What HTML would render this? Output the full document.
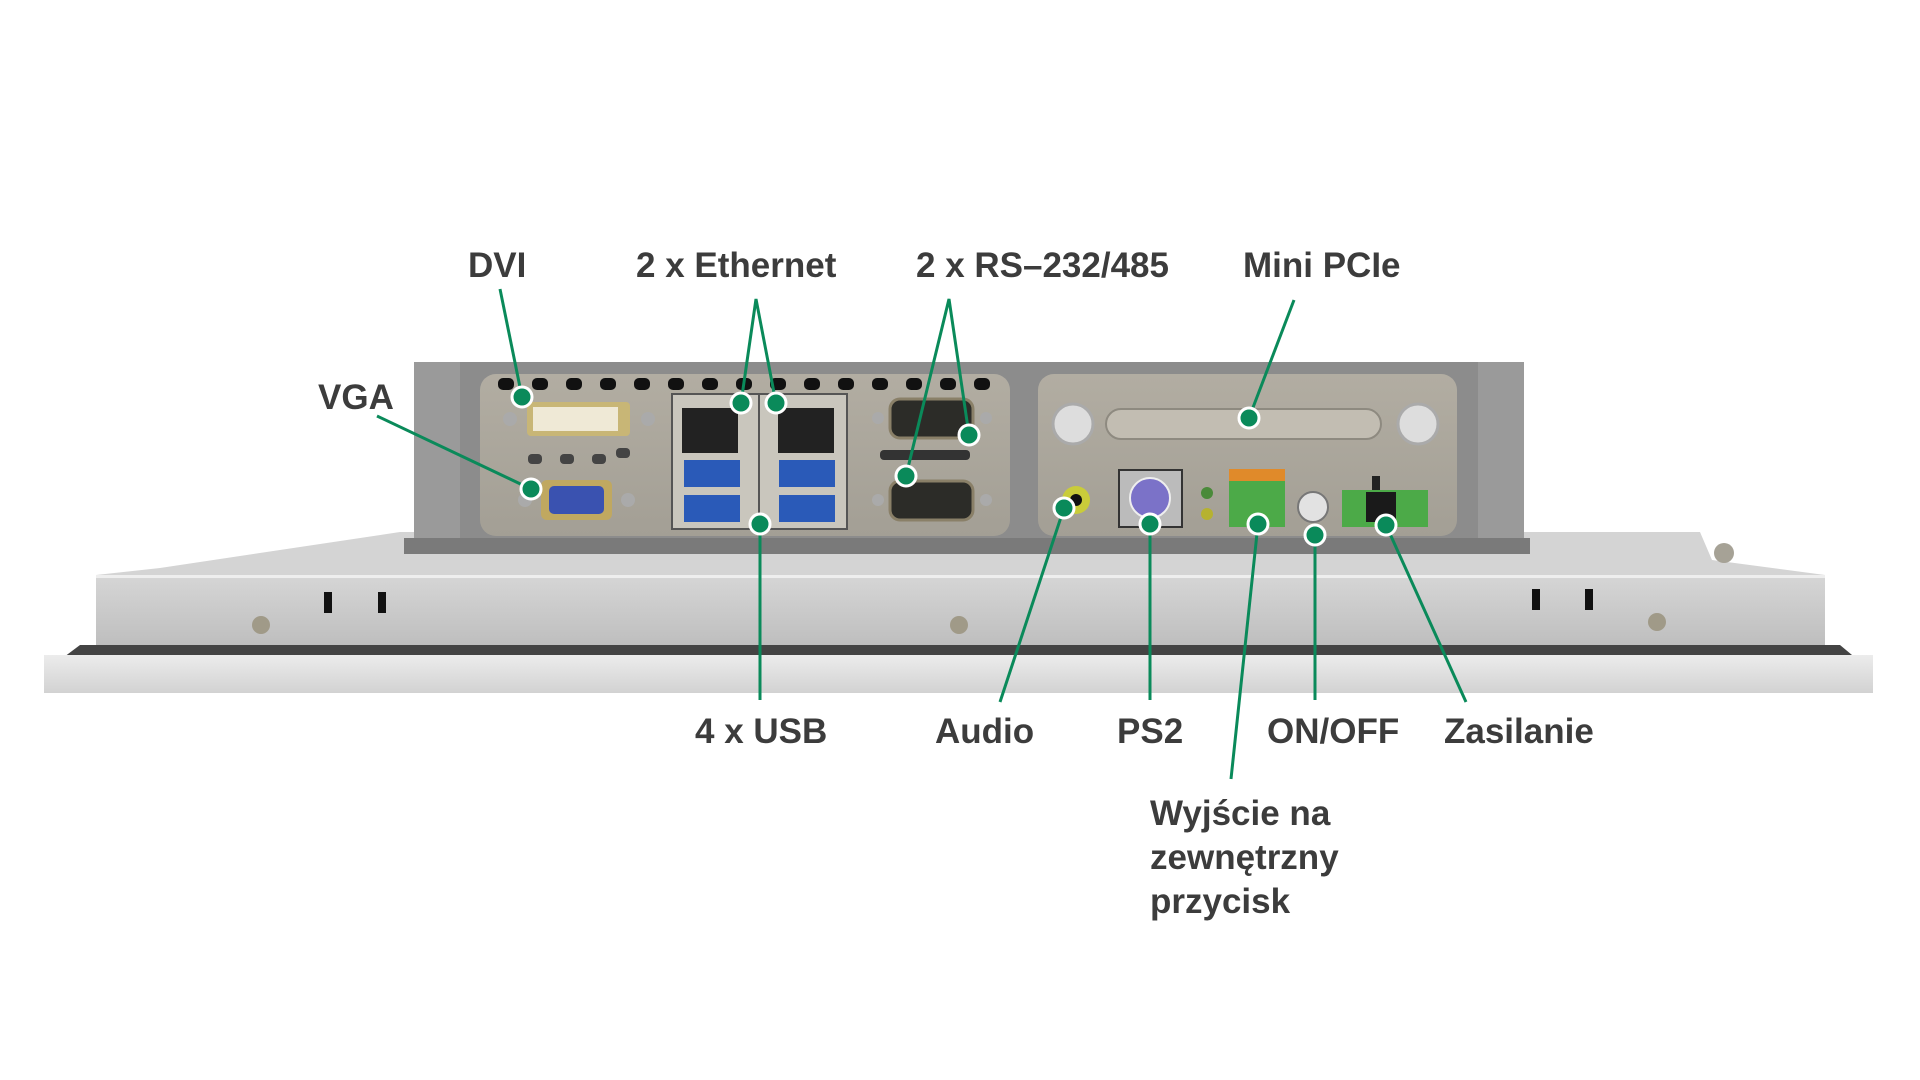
<!DOCTYPE html>
<html><head><meta charset="utf-8"><style>
html,body{margin:0;padding:0;background:#fff;}
svg{display:block;}
text{font-family:"Liberation Sans",sans-serif;font-weight:bold;font-size:35px;fill:#3c3c3c;}
</style></head><body>
<svg width="1920" height="1080" viewBox="0 0 1920 1080" xmlns="http://www.w3.org/2000/svg">
<defs>
<linearGradient id="bar" x1="0" y1="0" x2="0" y2="1"><stop offset="0" stop-color="#d6d6d6"/><stop offset="1" stop-color="#bdbdbd"/></linearGradient>
<linearGradient id="strip" x1="0" y1="0" x2="0" y2="1"><stop offset="0" stop-color="#ececec"/><stop offset="1" stop-color="#d2d2d2"/></linearGradient>
<linearGradient id="pan" x1="0" y1="0" x2="0" y2="1"><stop offset="0" stop-color="#b2ada2"/><stop offset="1" stop-color="#a39f95"/></linearGradient>
</defs>
<polygon points="160,568 400,532 1700,532 1712,560 1825,575 96,575" fill="#d4d4d4"/>
<rect x="96" y="575" width="1729" height="74" fill="url(#bar)"/>
<rect x="96" y="575" width="1729" height="3" fill="#eee"/>
<polygon points="60,660 80,645 1840,645 1858,660" fill="#444"/>
<rect x="44" y="655" width="1829" height="38" fill="url(#strip)"/>
<rect x="324" y="592" width="8" height="21" fill="#111"/><rect x="378" y="592" width="8" height="21" fill="#111"/>
<rect x="1532" y="589" width="8" height="21" fill="#111"/><rect x="1585" y="589" width="8" height="21" fill="#111"/>
<circle cx="261" cy="625" r="9" fill="#a09a88"/><circle cx="959" cy="625" r="9" fill="#a09a88"/><circle cx="1657" cy="622" r="9" fill="#a09a88"/>
<circle cx="1724" cy="553" r="10" fill="#a6a296"/>
<rect x="414" y="362" width="1110" height="180" fill="#8c8c8c"/>
<rect x="414" y="362" width="46" height="180" fill="#9a9a9a"/>
<rect x="1478" y="362" width="46" height="180" fill="#9a9a9a"/>
<rect x="404" y="538" width="1126" height="16" fill="#7a7a7a"/>
<rect x="480" y="374" width="530" height="162" rx="16" fill="url(#pan)"/>
<rect x="1038" y="374" width="419" height="162" rx="16" fill="url(#pan)"/>
<g fill="#111">
<rect x="498" y="378" width="16" height="12" rx="5"/><rect x="532" y="378" width="16" height="12" rx="5"/><rect x="566" y="378" width="16" height="12" rx="5"/><rect x="600" y="378" width="16" height="12" rx="5"/><rect x="634" y="378" width="16" height="12" rx="5"/><rect x="668" y="378" width="16" height="12" rx="5"/><rect x="702" y="378" width="16" height="12" rx="5"/><rect x="736" y="378" width="16" height="12" rx="5"/><rect x="770" y="378" width="16" height="12" rx="5"/><rect x="804" y="378" width="16" height="12" rx="5"/><rect x="838" y="378" width="16" height="12" rx="5"/><rect x="872" y="378" width="16" height="12" rx="5"/><rect x="906" y="378" width="16" height="12" rx="5"/><rect x="940" y="378" width="16" height="12" rx="5"/><rect x="974" y="378" width="16" height="12" rx="5"/>
<rect x="528" y="454" width="14" height="10" rx="4" fill="#444"/><rect x="560" y="454" width="14" height="10" rx="4" fill="#444"/><rect x="592" y="454" width="14" height="10" rx="4" fill="#444"/><rect x="616" y="448" width="14" height="10" rx="4" fill="#444"/>
<rect x="880" y="450" width="90" height="10" rx="4" fill="#333"/>
</g>
<rect x="527" y="402" width="103" height="34" rx="4" fill="#c8b676"/>
<rect x="533" y="407" width="85" height="24" fill="#efe9d6"/>
<circle cx="510" cy="419" r="7" fill="#aaa"/><circle cx="648" cy="419" r="7" fill="#aaa"/>
<rect x="541" y="480" width="71" height="40" rx="6" fill="#c0a860"/>
<rect x="549" y="486" width="55" height="28" rx="5" fill="#3a52b0"/>
<circle cx="525" cy="500" r="7" fill="#aaa"/><circle cx="628" cy="500" r="7" fill="#aaa"/>
<rect x="672" y="394" width="175" height="135" fill="#c9c6bd" stroke="#555" stroke-width="2"/>
<line x1="759" y1="394" x2="759" y2="529" stroke="#555" stroke-width="2"/>
<rect x="682" y="408" width="56" height="45" fill="#222"/><rect x="778" y="408" width="56" height="45" fill="#222"/>
<rect x="684" y="460" width="56" height="27" fill="#2a5ab8"/><rect x="684" y="495" width="56" height="27" fill="#2a5ab8"/>
<rect x="779" y="460" width="56" height="27" fill="#2a5ab8"/><rect x="779" y="495" width="56" height="27" fill="#2a5ab8"/>
<rect x="890" y="399" width="83" height="39" rx="10" fill="#2c2c28" stroke="#8a8068" stroke-width="3"/>
<rect x="890" y="481" width="83" height="39" rx="10" fill="#2c2c28" stroke="#8a8068" stroke-width="3"/>
<circle cx="878" cy="418" r="6" fill="#aaa"/><circle cx="986" cy="418" r="6" fill="#aaa"/><circle cx="878" cy="500" r="6" fill="#aaa"/><circle cx="986" cy="500" r="6" fill="#aaa"/>
<rect x="1106" y="409" width="275" height="30" rx="15" fill="#c2bdb2" stroke="#8e8a80" stroke-width="2"/>
<circle cx="1073" cy="424" r="20" fill="#ddd" stroke="#aaa" stroke-width="3"/><circle cx="1418" cy="424" r="20" fill="#ddd" stroke="#aaa" stroke-width="3"/>
<circle cx="1076" cy="500" r="14" fill="#c9cc3a"/><circle cx="1076" cy="500" r="6" fill="#111"/>
<rect x="1119" y="470" width="63" height="57" fill="#bbb" stroke="#333" stroke-width="2"/>
<circle cx="1150" cy="498" r="20" fill="#7b72c8" stroke="#eee" stroke-width="2"/>
<circle cx="1207" cy="493" r="6" fill="#4a8a3a"/><circle cx="1207" cy="514" r="6" fill="#b6b230"/>
<rect x="1229" y="469" width="56" height="12" fill="#e08a2a"/>
<rect x="1229" y="481" width="56" height="46" fill="#4caa48"/>
<circle cx="1313" cy="507" r="15" fill="#e2e2e2" stroke="#777" stroke-width="2"/>
<rect x="1342" y="490" width="86" height="37" fill="#4caa48"/>
<rect x="1372" y="476" width="8" height="14" fill="#222"/>
<rect x="1366" y="492" width="30" height="30" fill="#1a1a1a"/>
<g stroke="#0a8a5a" stroke-width="3" fill="none">
<line x1="500" y1="289" x2="522" y2="397"/>
<line x1="377" y1="416" x2="531" y2="489"/>
<polyline points="741,403 756,299 776,403"/>
<line x1="760" y1="524" x2="760" y2="700"/>
<polyline points="906,476 949,299 969,435"/>
<line x1="1294" y1="300" x2="1249" y2="418"/>
<line x1="1064" y1="508" x2="1000" y2="702"/>
<line x1="1150" y1="524" x2="1150" y2="700"/>
<line x1="1258" y1="524" x2="1231" y2="779"/>
<line x1="1315" y1="535" x2="1315" y2="700"/>
<line x1="1386" y1="525" x2="1466" y2="702"/>
</g>
<g fill="#0a8a5a" stroke="#fff" stroke-width="3">
<circle cx="522" cy="397" r="10"/><circle cx="531" cy="489" r="10"/>
<circle cx="741" cy="403" r="10"/><circle cx="776" cy="403" r="10"/>
<circle cx="760" cy="524" r="10"/>
<circle cx="969" cy="435" r="10"/><circle cx="906" cy="476" r="10"/>
<circle cx="1249" cy="418" r="10"/><circle cx="1064" cy="508" r="10"/>
<circle cx="1150" cy="524" r="10"/><circle cx="1258" cy="524" r="10"/>
<circle cx="1315" cy="535" r="10"/><circle cx="1386" cy="525" r="10"/>
</g>
<text x="468" y="277">DVI</text>
<text x="636" y="277">2 x Ethernet</text>
<text x="916" y="277">2 x RS–232/485</text>
<text x="1243" y="277">Mini PCIe</text>
<text x="318" y="409">VGA</text>
<text x="695" y="743">4 x USB</text>
<text x="935" y="743">Audio</text>
<text x="1117" y="743">PS2</text>
<text x="1267" y="743">ON/OFF</text>
<text x="1444" y="743">Zasilanie</text>
<text x="1150" y="825">Wyjście na</text>
<text x="1150" y="869">zewnętrzny</text>
<text x="1150" y="913">przycisk</text>
</svg>
</body></html>
